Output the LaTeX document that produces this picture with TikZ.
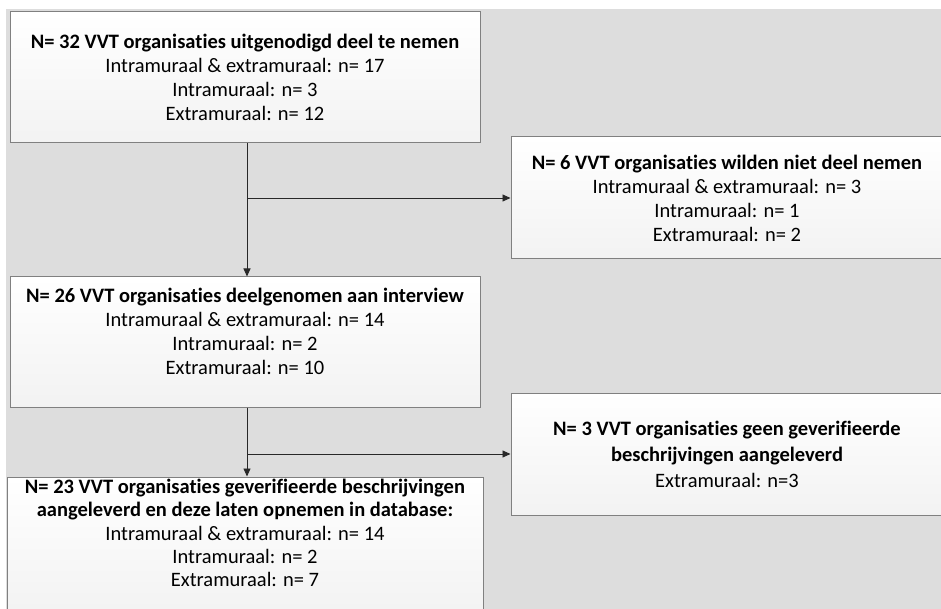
\documentclass[tikz,border=0pt]{standalone}
\usepackage{fontspec}
\setmainfont{Carlito}[Ligatures=NoCommon]
\usetikzlibrary{arrows.meta,calc}
\definecolor{bgray}{RGB}{221,221,221}
\definecolor{bordergray}{RGB}{128,128,128}
\definecolor{linegray}{RGB}{40,40,40}
\tikzset{
  flowbox/.style={draw=bordergray, line width=1pt, top color=white, bottom color=black!5,
    align=center, inner sep=0pt, font=\fontsize{20.5}{24}\selectfont},
  conn/.style={draw=linegray, line width=0.9pt, -{Triangle[length=8pt,width=7pt]}}
}
\begin{document}
\begin{tikzpicture}[x=1pt,y=-1pt]
\useasboundingbox (0,0) rectangle (941,609);
\fill[white] (0,0) rectangle (941,609);
\fill[bgray] (6,9) rectangle (941,609);
\begin{scope}
\clip (0,0) rectangle (941,609);
\node[flowbox, minimum width=470pt, minimum height=131pt] (b1) at (245,77.5)
  {\textbf{N= 32 VVT organisaties uitgenodigd deel te nemen}\\
   Intramuraal \& extramuraal: n= 17\\ Intramuraal: n= 3\\ Extramuraal: n= 12};
\node[flowbox, minimum width=432pt, minimum height=122pt] (b2) at (727,198)
  {\textbf{N= 6 VVT organisaties wilden niet deel nemen}\\
   Intramuraal \& extramuraal: n= 3\\ Intramuraal: n= 1\\ Extramuraal: n= 2};
\node[flowbox, minimum width=470pt, minimum height=130pt] (b3) at (245,342)
  {\textbf{N= 26 VVT organisaties deelgenomen aan interview}\\
   Intramuraal \& extramuraal: n= 14\\ Intramuraal: n= 2\\ Extramuraal: n= 10\\[-2pt]};
\node[flowbox, minimum width=432pt, minimum height=122pt, font=\fontsize{20.5}{26}\selectfont] (b5) at (727,454)
  {\textbf{N= 3 VVT organisaties geen geverifieerde}\\
   \textbf{beschrijvingen aangeleverd}\\ Extramuraal: n=3};
\node[flowbox, minimum width=476pt, minimum height=140pt, font=\fontsize{20.5}{23.3}\selectfont] (b4) at (245,547)
  {\textbf{N= 23 VVT organisaties geverifieerde beschrijvingen}\\
   \textbf{aangeleverd en deze laten opnemen in database:}\\
   Intramuraal \& extramuraal: n= 14\\ Intramuraal: n= 2\\ Extramuraal: n= 7\\[5pt]};
\end{scope}
\coordinate (j1) at (b1.south |- b2.west);
\coordinate (j2) at (b3.south |- b5.west);
\draw[conn] ([xshift=2pt]b1.south) -- ([xshift=2pt]b3.north);
\draw[conn] ([xshift=2pt]j1) -- (b2.west);
\draw[conn] ([xshift=2pt]b3.south) -- ([xshift=2pt]b4.north);
\draw[conn] ([xshift=2pt]j2) -- (b5.west);
\end{tikzpicture}
\end{document}
